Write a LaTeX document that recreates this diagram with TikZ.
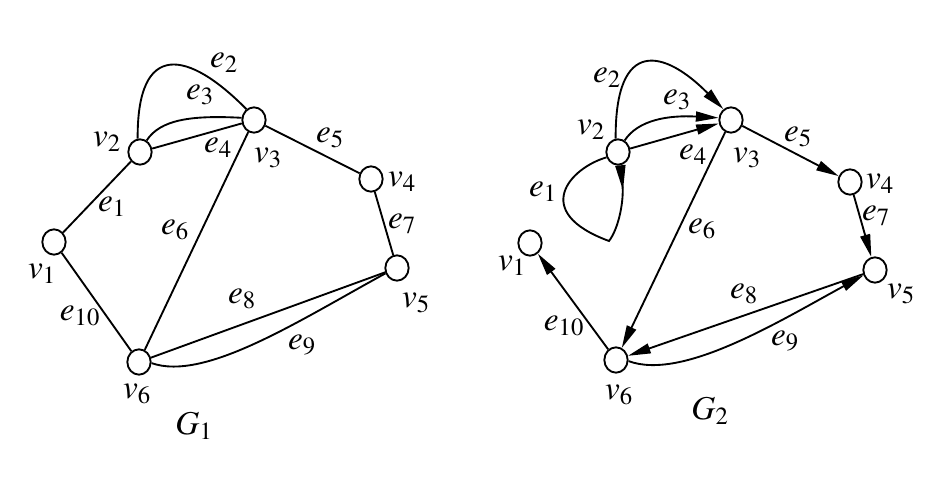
\documentclass[tikz,border=0pt]{standalone}
\usepackage{mathptmx}
\usetikzlibrary{arrows.meta,shapes.geometric}
\newcommand\lb[2]{$#1_{#2}$}
\begin{document}
\begin{tikzpicture}[x=0.75pt,y=-0.75pt,
  vtx/.style={ellipse,draw,line width=1.4pt,minimum width=17.5pt,minimum height=19pt,inner sep=0pt,fill=white},
  lbl/.style={inner sep=0pt,font=\fontsize{25}{28}\selectfont},
  edg/.style={line width=1.4pt},
  arr/.style={line width=1.4pt,-{Triangle[length=17pt,width=7.5pt]}},
  looparr/.style={line width=1.4pt,-{Triangle[reversed,length=19pt,width=7.5pt]}}
]
\useasboundingbox (0,0) rectangle (947,484);
% ---------- G1 ----------
\node[vtx] (a1) at (54,242) {};
\node[vtx] (a2) at (140,152) {};
\node[vtx] (a3) at (254,120) {};
\node[vtx] (a4) at (371,179) {};
\node[vtx] (a5) at (397,268) {};
\node[vtx] (a6) at (139,362) {};
\draw[edg] (a1) -- (a2);
\draw[edg] (a2.100) .. controls (137,40) and (188,50) .. (a3.125);
\draw[edg] (a2.60) .. controls (160,120) and (190,115) .. (a3.170);
\draw[edg] (a2) -- (a3);
\draw[edg] (a3) -- (a4);
\draw[edg] (a3) -- (a6);
\draw[edg] (a4) -- (a5);
\draw[edg] (a6) -- (a5);
\draw[edg] (a6.-5) .. controls (205,382) and (300,320) .. (a5.205);
\draw[edg] (a1) -- (a6);
\node[lbl] (la1) at (42,274) {\lb{v}{1}};
\node[lbl] (la2) at (107,142) {\lb{v}{2}};
\node[lbl] (la3) at (268,158) {\lb{v}{3}};
\node[lbl] (la4) at (402,182) {\lb{v}{4}};
\node[lbl] (la5) at (416,303) {\lb{v}{5}};
\node[lbl] (la6) at (137,394) {\lb{v}{6}};
\node[lbl] (ga) at (194,426) {\lb{G}{1}};
\node[lbl] (ea1) at (112,207) {\lb{e}{1}};
\node[lbl] (ea2) at (224,63) {\lb{e}{2}};
\node[lbl] (ea3) at (200,95) {\lb{e}{3}};
\node[lbl] (ea4) at (218,148) {\lb{e}{4}};
\node[lbl] (ea5) at (330,138) {\lb{e}{5}};
\node[lbl] (ea6) at (175,230) {\lb{e}{6}};
\node[lbl] (ea7) at (402,224) {\lb{e}{7}};
\node[lbl] (ea8) at (242,299) {\lb{e}{8}};
\node[lbl] (ea9) at (302,345) {\lb{e}{9}};
\node[lbl] (ea10) at (80,316) {\lb{e}{10}};
% ---------- G2 ----------
\node[vtx] (b1) at (530,243) {};
\node[vtx] (b2) at (618,152) {};
\node[vtx] (b3) at (731,120) {};
\node[vtx] (b4) at (850,182) {};
\node[vtx] (b5) at (875,270) {};
\node[vtx] (b6) at (616,360) {};
\coordinate (lp) at (609,241);
\draw[looparr] (b2.205) .. controls (570,168) and (530,212) .. (lp) .. controls (619,228) and (624,200) .. (b2.-80);
\draw[arr] (b2.100) .. controls (615,36) and (665,50) .. (b3.125);
\draw[arr] (b2.60) .. controls (638,120) and (668,115) .. (b3.170);
\draw[arr] (b2) -- (b3);
\draw[arr] (b3) -- (b4);
\draw[arr] (b3) -- (b6);
\draw[arr] (b4) -- (b5);
\draw[arr] (b5) -- (b6);
\draw[arr] (b6.-5) .. controls (682,381) and (778,322) .. (b5.205);
\draw[arr] (b6) -- (b1);
\node[lbl] (lb1) at (512,266) {\lb{v}{1}};
\node[lbl] (lb2) at (591,130) {\lb{v}{2}};
\node[lbl] (lb3) at (747,158) {\lb{v}{3}};
\node[lbl] (lb4) at (880,184) {\lb{v}{4}};
\node[lbl] (lb5) at (901,294) {\lb{v}{5}};
\node[lbl] (lb6) at (619,395) {\lb{v}{6}};
\node[lbl] (gb) at (710,411) {\lb{G}{2}};
\node[lbl] (eb1) at (543,192) {\lb{e}{1}};
\node[lbl] (eb2) at (607,78) {\lb{e}{2}};
\node[lbl] (eb3) at (677,100) {\lb{e}{3}};
\node[lbl] (eb4) at (693,155) {\lb{e}{4}};
\node[lbl] (eb5) at (798,137) {\lb{e}{5}};
\node[lbl] (eb6) at (702,229) {\lb{e}{6}};
\node[lbl] (eb7) at (876,216) {\lb{e}{7}};
\node[lbl] (eb8) at (744,294) {\lb{e}{8}};
\node[lbl] (eb9) at (785,341) {\lb{e}{9}};
\node[lbl] (eb10) at (564,326) {\lb{e}{10}};
\end{tikzpicture}
\end{document}
